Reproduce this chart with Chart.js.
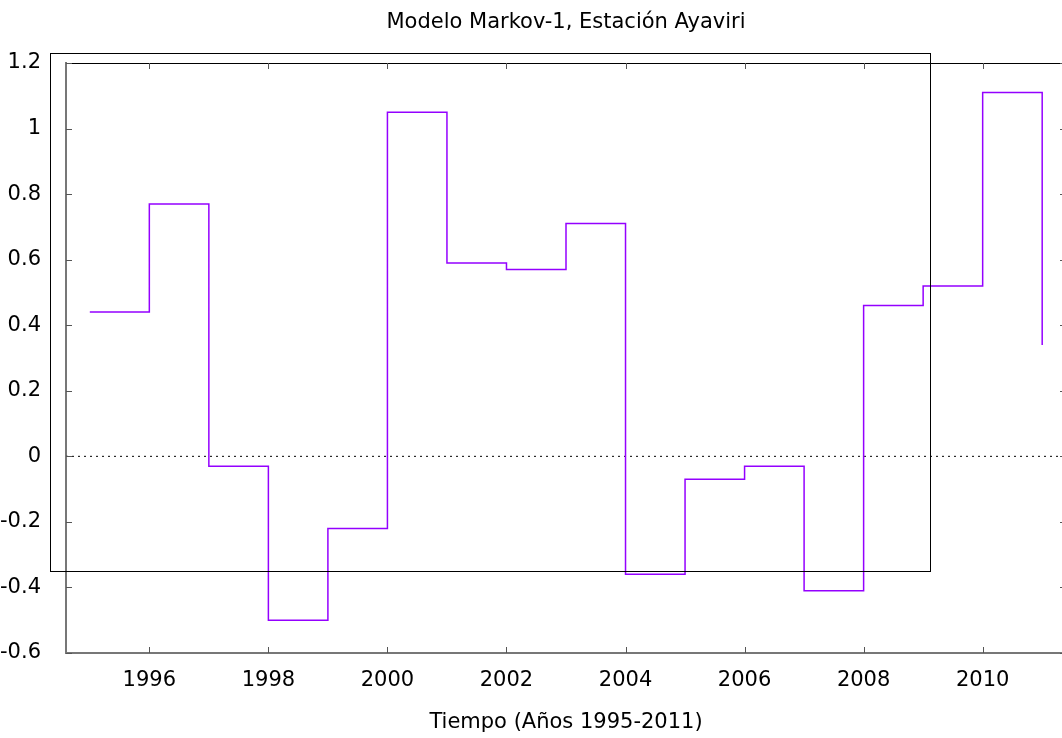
<!DOCTYPE html>
<html>
<head>
<meta charset="utf-8">
<script src="https://cdn.jsdelivr.net/npm/chart.js@4.4.1/dist/chart.umd.min.js"></script>
<style>
  html, body { margin: 0; padding: 0; background: #fff; overflow: hidden; }
</style>
</head>
<body>
<canvas id="chart" width="1080" height="738"></canvas>
<script>
// Serie escalonada (Modelo Markov-1, Ayaviri)
const years = [1995, 1996, 1997, 1998, 1999, 2000, 2001, 2002, 2003,
               2004, 2005, 2006, 2007, 2008, 2009, 2010, 2011];
const values = [0.44, 0.77, -0.03, -0.50, -0.22, 1.05, 0.59, 0.57, 0.71,
                -0.36, -0.07, -0.03, -0.41, 0.46, 0.52, 1.11, 0.34];

// Ejes
const xTicks = [1996, 1998, 2000, 2002, 2004, 2006, 2008, 2010];
const yTicks = [-0.6, -0.4, -0.2, 0, 0.2, 0.4, 0.6, 0.8, 1, 1.2];
const yTickLabels = ['-0.6', '-0.4', '-0.2', '0', '0.2', '0.4', '0.6', '0.8', '1', '1.2'];
const xRange = [1994.6, 2011.4];
const yRange = [-0.6, 1.2];

// Recuadro negro que aparece encima del grafico (en unidades de datos)
const boxX = [1994.335, 2009.11];
const boxY = [-0.35, 1.229];

const FONT = 'DejaVu Sans';

// Marcas hacia dentro, borde superior y recuadro
const framePlugin = {
    id: 'frame',
    afterDatasetsDraw(chart) {
        const { ctx, chartArea: a, scales: { x, y } } = chart;
        ctx.save();
        ctx.lineWidth = 1;

        // borde superior y derecho
        ctx.strokeStyle = '#000';
        ctx.beginPath();
        ctx.moveTo(a.left, Math.round(a.top) + 0.5);
        ctx.lineTo(a.right, Math.round(a.top) + 0.5);
        ctx.moveTo(Math.round(a.right) - 0.5, a.top);
        ctx.lineTo(Math.round(a.right) - 0.5, a.bottom);
        ctx.stroke();

        // marcas
        ctx.strokeStyle = '#555';
        ctx.beginPath();
        xTicks.forEach(v => {
            const px = Math.round(x.getPixelForValue(v)) + 0.5;
            ctx.moveTo(px, a.bottom);
            ctx.lineTo(px, a.bottom - 6);
            ctx.moveTo(px, a.top);
            ctx.lineTo(px, a.top + 6);
        });
        yTicks.forEach(v => {
            const py = Math.round(y.getPixelForValue(v)) + 0.5;
            ctx.moveTo(a.left, py);
            ctx.lineTo(a.left + 6, py);
            ctx.moveTo(a.right, py);
            ctx.lineTo(a.right - 6, py);
        });
        ctx.stroke();

        // recuadro
        ctx.strokeStyle = '#000';
        const l = Math.round(x.getPixelForValue(boxX[0])) + 0.5;
        const r = Math.round(x.getPixelForValue(boxX[1])) + 0.5;
        const t = Math.round(y.getPixelForValue(boxY[1])) + 0.5;
        const b = Math.round(y.getPixelForValue(boxY[0])) + 0.5;
        ctx.strokeRect(l, t, r - l, b - t);

        ctx.restore();
    }
};

const ctx = document.getElementById('chart').getContext('2d');

new Chart(ctx, {
    type: 'line',
    data: {
        datasets: [
            {
                label: 'Markov-1',
                data: years.map((yr, i) => ({ x: yr, y: values[i] })),
                stepped: 'before',
                borderColor: '#9400ff',
                borderWidth: 1.5,
                pointRadius: 0,
                fill: false
            },
            {
                label: 'cero',
                data: xRange.map(v => ({ x: v, y: 0 })),
                borderColor: '#000',
                borderWidth: 1,
                borderDash: [2, 4],
                pointRadius: 0,
                fill: false
            }
        ]
    },
    options: {
        responsive: false,
        animation: false,
        layout: { padding: { left: 0, right: 14, top: 0, bottom: 0 } },
        plugins: {
            legend: { display: false },
            tooltip: { enabled: false },
            title: {
                display: true,
                text: 'Modelo Markov-1, Estación Ayaviri',
                color: '#000',
                fullSize: false,
                font: { family: FONT, size: 21, weight: 'normal', lineHeight: 1.2 },
                padding: { top: 10, bottom: 27.8 }
            }
        },
        scales: {
            x: {
                type: 'linear',
                min: xRange[0],
                max: xRange[1],
                afterBuildTicks: axis => { axis.ticks = xTicks.map(v => ({ value: v })); },
                afterFit: axis => { axis.height = 85; },
                grid: { display: false },
                border: { display: true, color: '#777', width: 2 },
                ticks: {
                    color: '#000',
                    padding: 7,
                    maxRotation: 0,
                    autoSkip: false,
                    font: { family: FONT, size: 21, lineHeight: 1.2 },
                    callback: v => String(v)
                },
                title: {
                    display: true,
                    text: 'Tiempo (Años 1995-2011)',
                    color: '#000',
                    font: { family: FONT, size: 21, lineHeight: 1.2 },
                    padding: { top: 0, bottom: 3 }
                }
            },
            y: {
                min: yRange[0],
                max: yRange[1],
                afterBuildTicks: axis => { axis.ticks = yTicks.map(v => ({ value: v })); },
                afterFit: axis => { axis.width = 66; },
                grid: { display: false },
                border: { display: true, color: '#777', width: 2 },
                ticks: {
                    color: '#000',
                    padding: 17,
                    autoSkip: false,
                    font: { family: FONT, size: 21, lineHeight: 1.2 },
                    callback: (v, i) => yTickLabels[i]
                }
            }
        }
    },
    plugins: [framePlugin]
});
</script>
</body>
</html>
